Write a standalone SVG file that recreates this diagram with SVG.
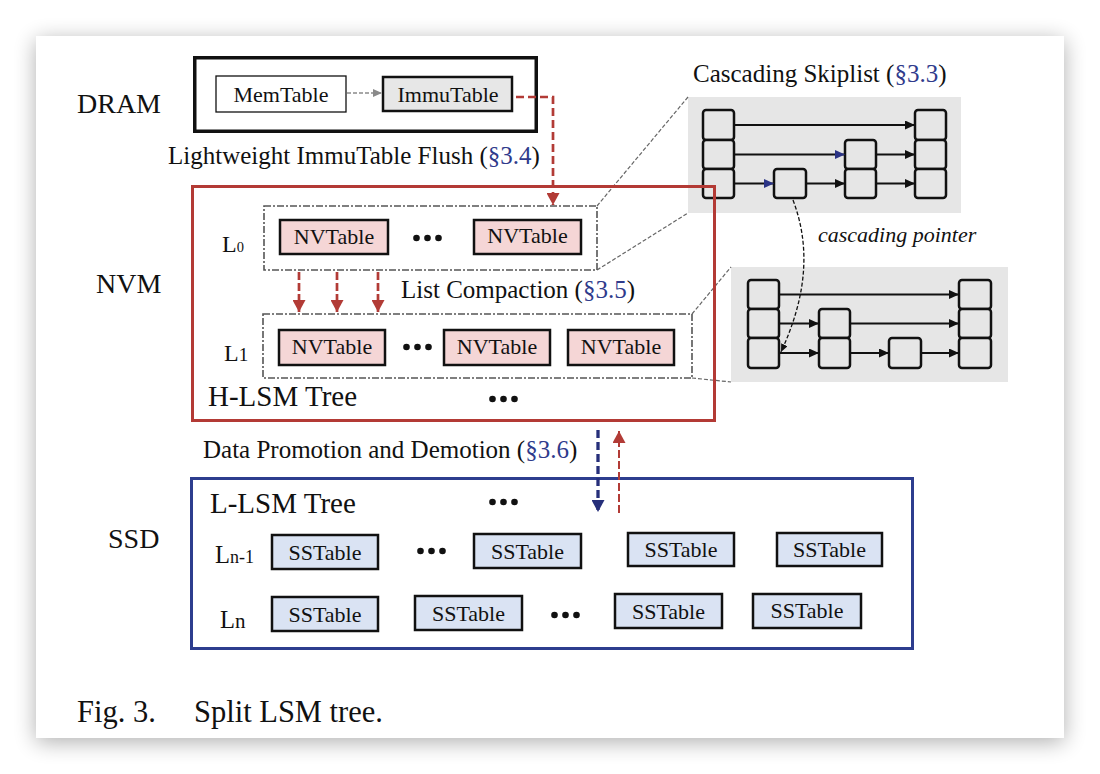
<svg xmlns="http://www.w3.org/2000/svg" width="1100" height="774" viewBox="0 0 1100 774">
<defs>
  <filter id="cardShadow" x="-5%" y="-6%" width="110%" height="114%">
    <feGaussianBlur in="SourceAlpha" stdDeviation="11"/>
    <feOffset dy="4" result="b"/>
    <feComponentTransfer><feFuncA type="linear" slope="0.32"/></feComponentTransfer>
    <feMerge><feMergeNode/><feMergeNode in="SourceGraphic"/></feMerge>
  </filter>
  <marker id="ahBlack" markerUnits="userSpaceOnUse" markerWidth="10" markerHeight="9" refX="10" refY="4.5" orient="auto"><path d="M0,0 L10,4.5 L0,9 z" fill="#111"/></marker>
  <marker id="ahNavySmall" markerUnits="userSpaceOnUse" markerWidth="10" markerHeight="9" refX="10" refY="4.5" orient="auto"><path d="M0,0 L10,4.5 L0,9 z" fill="#2b3486"/></marker>
  <marker id="ahGray" markerUnits="userSpaceOnUse" markerWidth="9" markerHeight="8" refX="9" refY="4" orient="auto"><path d="M0,0 L9,4 L0,8 z" fill="#8a8a8a"/></marker>
  <marker id="ahRed" markerUnits="userSpaceOnUse" markerWidth="12" markerHeight="13" refX="12" refY="6.5" orient="auto"><path d="M0,0 L12,6.5 L0,13 z" fill="#b23b36"/></marker>
  <marker id="ahNavy" markerUnits="userSpaceOnUse" markerWidth="12" markerHeight="13" refX="12" refY="6.5" orient="auto"><path d="M0,0 L12,6.5 L0,13 z" fill="#262f7a"/></marker>
  <marker id="ahPointer" markerUnits="userSpaceOnUse" markerWidth="8" markerHeight="7" refX="8" refY="3.5" orient="auto"><path d="M0,0 L8,3.5 L0,7 z" fill="#111"/></marker>
</defs>
<style>
  text{font-family:"Liberation Serif","Times New Roman",serif;fill:#111}
  .lbl{font-size:28px}
  .tree{font-size:29px}
  .mid{font-size:25px}
  .tbl{font-size:22px;text-anchor:middle}
  .sec{fill:#2f3b8c}
  .nv{fill:#f5d6d6;stroke:#111;stroke-width:2.5}
  .ss{fill:#dae3f3;stroke:#111;stroke-width:2.5}
  .lvl{fill:none;stroke:#555;stroke-width:1.6;stroke-dasharray:7 2 2 2}
  .panel{fill:#e6e6e6}
  .cell{fill:#e6e6e6;stroke:#111;stroke-width:2.5}
  .sk{stroke:#111;stroke-width:2;fill:none;marker-end:url(#ahBlack)}
  .skb{stroke:#111;stroke-width:2;fill:none;marker-end:url(#ahNavySmall)}
  .guide{stroke:#666;stroke-width:1.2;fill:none;stroke-dasharray:4 2}
  .dot{fill:#111}
</style>

<rect x="0" y="0" width="1100" height="774" fill="#ffffff"/>
<rect id="card" x="36" y="36" width="1028" height="702" fill="#ffffff" filter="url(#cardShadow)"/>

<!-- Tier labels -->
<g id="label-dram"><text class="lbl" x="77" y="113">DRAM</text></g>
<g id="label-nvm"><text class="lbl" x="96" y="293">NVM</text></g>
<g id="label-ssd"><text class="lbl" x="108" y="548">SSD</text></g>

<!-- DRAM -->
<g id="dram">
  <rect x="194.75" y="57.75" width="341.5" height="73.5" fill="none" stroke="#111" stroke-width="3.5"/>
  <g id="memtable">
    <rect x="216" y="76" width="130" height="36" fill="#fff" stroke="#111" stroke-width="1.3"/>
    <text class="tbl" x="281" y="102">MemTable</text>
  </g>
  <g id="immutable">
    <rect x="383" y="77" width="129" height="34" fill="#e7e7e7" stroke="#111" stroke-width="2.5"/>
    <text class="tbl" x="448" y="102">ImmuTable</text>
  </g>
</g>

<g id="label-flush"><text class="mid" x="168" y="164">Lightweight ImmuTable Flush (<tspan class="sec">§3.4</tspan>)</text></g>

<!-- Cascading skiplist panels -->
<g id="skiplist-top">
  <text class="mid" x="693" y="82">Cascading Skiplist (<tspan class="sec">§3.3</tspan>)</text>
  <rect class="panel" x="688" y="97" width="273" height="116"/>
  <rect class="cell" x="703" y="110" width="31" height="30" rx="3"/>
  <rect class="cell" x="703" y="140" width="31" height="29" rx="3"/>
  <rect class="cell" x="703" y="169" width="31" height="29" rx="3"/>
  <rect class="cell" x="774" y="169" width="32" height="29" rx="3"/>
  <rect class="cell" x="845" y="140" width="31" height="29" rx="3"/>
  <rect class="cell" x="845" y="169" width="31" height="29" rx="3"/>
  <rect class="cell" x="915" y="110" width="31" height="30" rx="3"/>
  <rect class="cell" x="915" y="140" width="31" height="29" rx="3"/>
  <rect class="cell" x="915" y="169" width="31" height="29" rx="3"/>
  <path class="sk" d="M734,125 H915"/>
  <path class="skb" d="M734,154.5 H845"/>
  <path class="sk" d="M876,154.5 H915"/>
  <path class="skb" d="M734,183.5 H774"/>
  <path class="sk" d="M806,183.5 H845"/>
  <path class="sk" d="M876,183.5 H915"/>
</g>

<g id="skiplist-bottom">
  <rect class="panel" x="731" y="267" width="277" height="115"/>
  <rect class="cell" x="748" y="280" width="31" height="29" rx="3"/>
  <rect class="cell" x="748" y="309" width="31" height="29" rx="3"/>
  <rect class="cell" x="748" y="338" width="31" height="30" rx="3"/>
  <rect class="cell" x="819" y="309" width="31" height="29" rx="3"/>
  <rect class="cell" x="819" y="338" width="31" height="30" rx="3"/>
  <rect class="cell" x="889" y="338" width="32" height="30" rx="3"/>
  <rect class="cell" x="959" y="280" width="32" height="29" rx="3"/>
  <rect class="cell" x="959" y="309" width="32" height="29" rx="3"/>
  <rect class="cell" x="959" y="338" width="32" height="30" rx="3"/>
  <path class="sk" d="M779,294.5 H959"/>
  <path class="sk" d="M779,323.5 H819"/>
  <path class="sk" d="M850,323.5 H959"/>
  <path class="sk" d="M779,353 H819"/>
  <path class="sk" d="M850,353 H889"/>
  <path class="sk" d="M921,353 H959"/>
</g>

<g id="label-pointer"><text x="818" y="242" font-size="22" font-style="italic">cascading pointer</text></g>

<!-- zoom guide lines -->
<g id="guides">
  <path class="guide" d="M597,206 L688,97"/>
  <path class="guide" d="M597,270 L688,213"/>
  <path class="guide" d="M692,314 L731,267"/>
  <path class="guide" d="M692,378 L731,382"/>
</g>

<!-- NVM: H-LSM tree -->
<g id="h-lsm">
  <rect x="192.5" y="186.5" width="522" height="234" fill="none" stroke="#b33a35" stroke-width="3"/>
  <text class="tree" x="208" y="406">H-LSM Tree</text>
  <circle class="dot" cx="492.5" cy="399" r="3.3"/><circle class="dot" cx="503.5" cy="399" r="3.3"/><circle class="dot" cx="514.5" cy="399" r="3.3"/>
</g>

<g id="level-l0">
  <rect class="lvl" x="264" y="206" width="333" height="64"/>
  <text x="222" y="252" font-size="24">L<tspan font-size="14.5">0</tspan></text>
  <g id="nvtable-l0-a"><rect class="nv" x="280" y="220" width="108" height="34"/><text class="tbl" x="334" y="244">NVTable</text></g>
  <circle class="dot" cx="416.5" cy="238" r="3.3"/><circle class="dot" cx="427.5" cy="238" r="3.3"/><circle class="dot" cx="438.5" cy="238" r="3.3"/>
  <g id="nvtable-l0-b"><rect class="nv" x="474" y="220" width="107" height="34"/><text class="tbl" x="527.5" y="243">NVTable</text></g>
</g>

<g id="label-compaction"><text class="mid" x="401" y="298">List Compaction (<tspan class="sec">§3.5</tspan>)</text></g>

<g id="level-l1">
  <rect class="lvl" x="263" y="314" width="429" height="64"/>
  <text x="224" y="361" font-size="24">L<tspan font-size="19">1</tspan></text>
  <g id="nvtable-l1-a"><rect class="nv" x="279" y="330" width="106" height="35"/><text class="tbl" x="332" y="354">NVTable</text></g>
  <circle class="dot" cx="406.5" cy="347" r="3.3"/><circle class="dot" cx="417.5" cy="347" r="3.3"/><circle class="dot" cx="428.5" cy="347" r="3.3"/>
  <g id="nvtable-l1-b"><rect class="nv" x="444" y="330" width="106" height="35"/><text class="tbl" x="497" y="354">NVTable</text></g>
  <g id="nvtable-l1-c"><rect class="nv" x="568" y="330" width="106" height="35"/><text class="tbl" x="621" y="354">NVTable</text></g>
</g>

<g id="label-promotion"><text class="mid" x="203" y="458">Data Promotion and Demotion (<tspan class="sec">§3.6</tspan>)</text></g>

<!-- SSD: L-LSM tree -->
<g id="l-lsm">
  <rect x="191.5" y="478.5" width="721" height="170" fill="none" stroke="#2d3d8e" stroke-width="3"/>
  <text class="tree" x="210" y="513">L-LSM Tree</text>
  <circle class="dot" cx="492.5" cy="502" r="3.3"/><circle class="dot" cx="503.5" cy="502" r="3.3"/><circle class="dot" cx="514.5" cy="502" r="3.3"/>
</g>

<g id="level-ln-1">
  <text x="215" y="563" font-size="24.5">L<tspan font-size="18">n-1</tspan></text>
  <g id="sstable-n1-a"><rect class="ss" x="272" y="535" width="106" height="34"/><text class="tbl" x="325" y="560">SSTable</text></g>
  <circle class="dot" cx="420.5" cy="551" r="3.3"/><circle class="dot" cx="431.5" cy="551" r="3.3"/><circle class="dot" cx="442.5" cy="551" r="3.3"/>
  <g id="sstable-n1-b"><rect class="ss" x="474" y="534" width="107" height="34"/><text class="tbl" x="527.5" y="559">SSTable</text></g>
  <g id="sstable-n1-c"><rect class="ss" x="628" y="533" width="106" height="33"/><text class="tbl" x="681" y="557">SSTable</text></g>
  <g id="sstable-n1-d"><rect class="ss" x="777" y="533" width="105" height="33"/><text class="tbl" x="829.5" y="557">SSTable</text></g>
</g>

<g id="level-ln">
  <text x="220" y="628" font-size="24.5">L<tspan font-size="21">n</tspan></text>
  <g id="sstable-n-a"><rect class="ss" x="272" y="597" width="106" height="34"/><text class="tbl" x="325" y="622">SSTable</text></g>
  <g id="sstable-n-b"><rect class="ss" x="415" y="596" width="107" height="34"/><text class="tbl" x="468.5" y="621">SSTable</text></g>
  <circle class="dot" cx="554.5" cy="615" r="3.3"/><circle class="dot" cx="565.5" cy="615" r="3.3"/><circle class="dot" cx="576.5" cy="615" r="3.3"/>
  <g id="sstable-n-c"><rect class="ss" x="615" y="594" width="107" height="34"/><text class="tbl" x="668.5" y="619">SSTable</text></g>
  <g id="sstable-n-d"><rect class="ss" x="753" y="594" width="108" height="34"/><text class="tbl" x="807" y="618">SSTable</text></g>
</g>

<!-- connectors -->
<g id="connectors" fill="none">
  <path d="M347,93 H382" stroke="#8a8a8a" stroke-width="1.3" stroke-dasharray="4 2" marker-end="url(#ahGray)"/>
  <path d="M516,97 H553 V205" stroke="#b23b36" stroke-width="2.7" stroke-dasharray="8 4" marker-end="url(#ahRed)"/>
  <path d="M299,272 V312" stroke="#b23b36" stroke-width="2.7" stroke-dasharray="8 3" marker-end="url(#ahRed)"/>
  <path d="M337,272 V312" stroke="#b23b36" stroke-width="2.7" stroke-dasharray="8 3" marker-end="url(#ahRed)"/>
  <path d="M378,272 V312" stroke="#b23b36" stroke-width="2.7" stroke-dasharray="8 3" marker-end="url(#ahRed)"/>
  <path d="M598,430 V512" stroke="#262f7a" stroke-width="3.3" stroke-dasharray="8 4" marker-end="url(#ahNavy)"/>
  <path d="M619,513 V431" stroke="#b23b36" stroke-width="2" stroke-dasharray="8 3" marker-end="url(#ahRed)"/>
  <path d="M793,200 C812,250 805,300 781,352" stroke="#111" stroke-width="1.3" stroke-dasharray="4 2" marker-end="url(#ahPointer)"/>
</g>

<g id="caption"><text x="77" y="722" font-size="30.5">Fig. 3.<tspan x="194">Split LSM tree.</tspan></text></g>
</svg>
